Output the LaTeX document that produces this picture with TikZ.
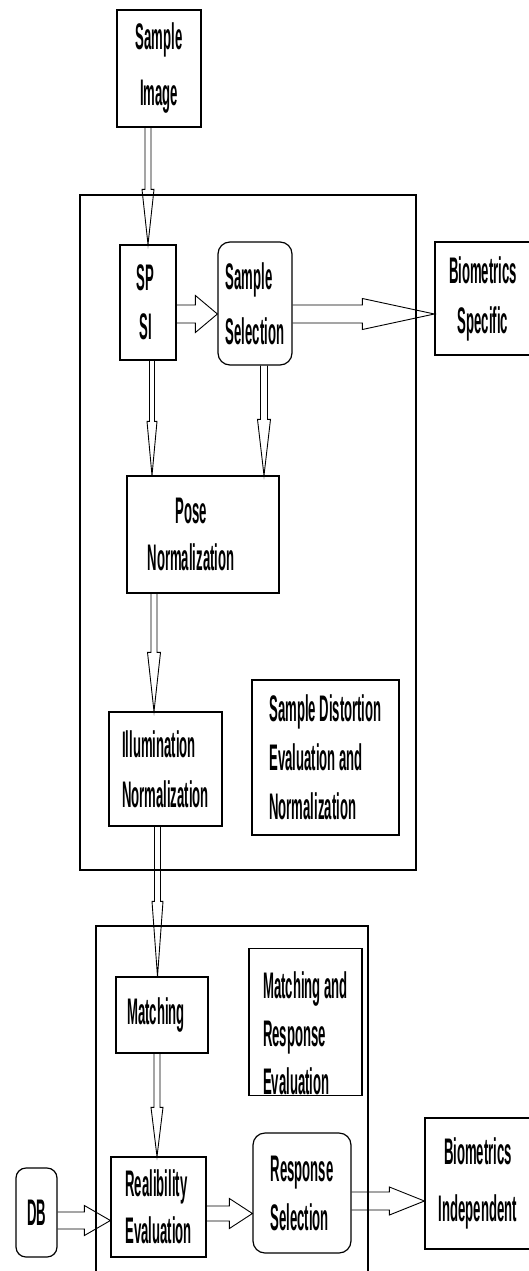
\documentclass[tikz,border=0pt]{standalone}
\usepackage{fontspec}
\setmainfont{Liberation Sans}[FakeStretch=0.355,BoldFont={Liberation Sans Bold}]
\usetikzlibrary{calc}
\begin{document}
\begin{tikzpicture}[x=1pt,y=-1pt,
  box/.style={draw, line width=1.2pt, inner sep=0pt, align=center},
  lbox/.style={box, align=left},
  rbox/.style={box, rounded corners=12pt},
  fs/.style={font=\fontsize{37}{#1}\selectfont\bfseries},
  frame/.style={draw, line width=1.2pt},
  vfat/.style n args={3}{draw, line width=0.9pt, to path={let \p1=(\tikztostart), \p2=(\tikztotarget) in
     (\x1-#1pt,\y1) -- (\x1-#1pt,\y2+#3pt) -- (\x1-#2pt,\y2+#3pt) -- (\x1,\y2) -- (\x1+#2pt,\y2+#3pt) -- (\x1+#1pt,\y2+#3pt) -- (\x1+#1pt,\y1)}},
  hfat/.style n args={3}{draw, line width=0.9pt, to path={let \p1=(\tikztostart), \p2=(\tikztotarget) in
     (\x1,\y1-#1pt) -- (\x2-#3pt,\y1-#1pt) -- (\x2-#3pt,\y1-#2pt) -- (\x2,\y1) -- (\x2-#3pt,\y1+#2pt) -- (\x2-#3pt,\y1+#1pt) -- (\x1,\y1+#1pt)}}
]
\useasboundingbox (0,0) rectangle (529,1271);

% frames
\draw[frame] (80,195) rectangle (416,870);
\draw[frame] (96,1280) -- (96,926) -- (368,926) -- (368,1280);

% nodes
\node[box, fs=56, minimum width=84pt, minimum height=117pt] (si) at (159,68.5) {Sample\\Image};
\node[box, fs=49, minimum width=56pt, minimum height=115pt] (spsi) at (148,302.5) {SP\kern5pt\\SI\kern5pt};
\node[rbox, align=left, fs=55, minimum width=74pt, minimum height=123pt] (ss) at (255,303.5) {Sample\\Selection};
\node[box, fs=50, minimum width=96pt, minimum height=113pt] (bs) at (483,298.5) {Biometrics\\Specific};
\node[box, fs=47, minimum width=152pt, minimum height=117pt] (pose) at (203,534.5) {Pose\kern24pt\\Normalization\kern24pt};
\node[lbox, fs=50, minimum width=113pt, minimum height=114pt] (ill) at (165.5,769) {Illumination\\Normalization};
\node[lbox, fs=49, minimum width=147pt, minimum height=155pt] (sde) at (325.5,757.5) {Sample Distortion\\Evaluation and\\Normalization};
\node[box, fs=48, minimum width=92pt, minimum height=76pt] (match) at (162,1015) {Matching\kern12pt};
\node[lbox, fs=48, minimum width=113pt, minimum height=140pt] (mre) at (305.5,1022) {\rule{0pt}{50pt}Matching and\\Response\\Evaluation};
\node[lbox, fs=47, minimum width=95pt, minimum height=100pt] (rel) at (158.5,1207) {Realibility\\Evaluation};
\node[rbox, align=left, fs=49, minimum width=98pt, minimum height=120pt] (rs) at (302,1193) {Response\\Selection};
\node[box, fs=57, minimum width=106pt, minimum height=131pt] (bi) at (478,1183.5) {Biometrics\\Independent};
\node[rbox, rounded corners=10pt, fs=48, minimum width=41pt, minimum height=89pt] (db) at (36.5,1212.5) {DB};

% connectors
\path[vfat={3}{6}{55}] (spsi.north |- si.south) to (spsi.north);
\path[hfat={9}{18.5}{22}] ([yshift=-11.5pt]spsi.east) to (ss.west);
\path[hfat={9}{15.5}{72}] ([yshift=-10.5pt]ss.east) to (bs.west);
\path[vfat={2.5}{5}{54}] ([xshift=4pt]spsi.south) to ([xshift=4pt]spsi.south |- pose.north);
\path[vfat={3.5}{6.5}{56}] ([xshift=9pt]ss.south) to ([xshift=9pt]ss.south |- pose.north);
\path[vfat={3}{6.5}{59}] ([xshift=-49pt]pose.south) to ([xshift=-49pt]pose.south |- ill.north);
\path[vfat={3}{5.5}{75}] ([xshift=-8pt]ill.south) to ([xshift=-8pt]ill.south |- match.north);
\path[vfat={3}{6}{49}] ([xshift=-5pt]match.south) to ([xshift=-5pt]match.south |- rel.north);
\path[hfat={8.5}{15}{26}] ([yshift=-8pt]db.east) to (rel.west);
\path[hfat={7.5}{15}{23}] ([yshift=-6.5pt]rel.east) to (rs.west);
\path[hfat={9}{14}{35}] ([yshift=-8pt]rs.east) to (bi.west);
\end{tikzpicture}
\end{document}
